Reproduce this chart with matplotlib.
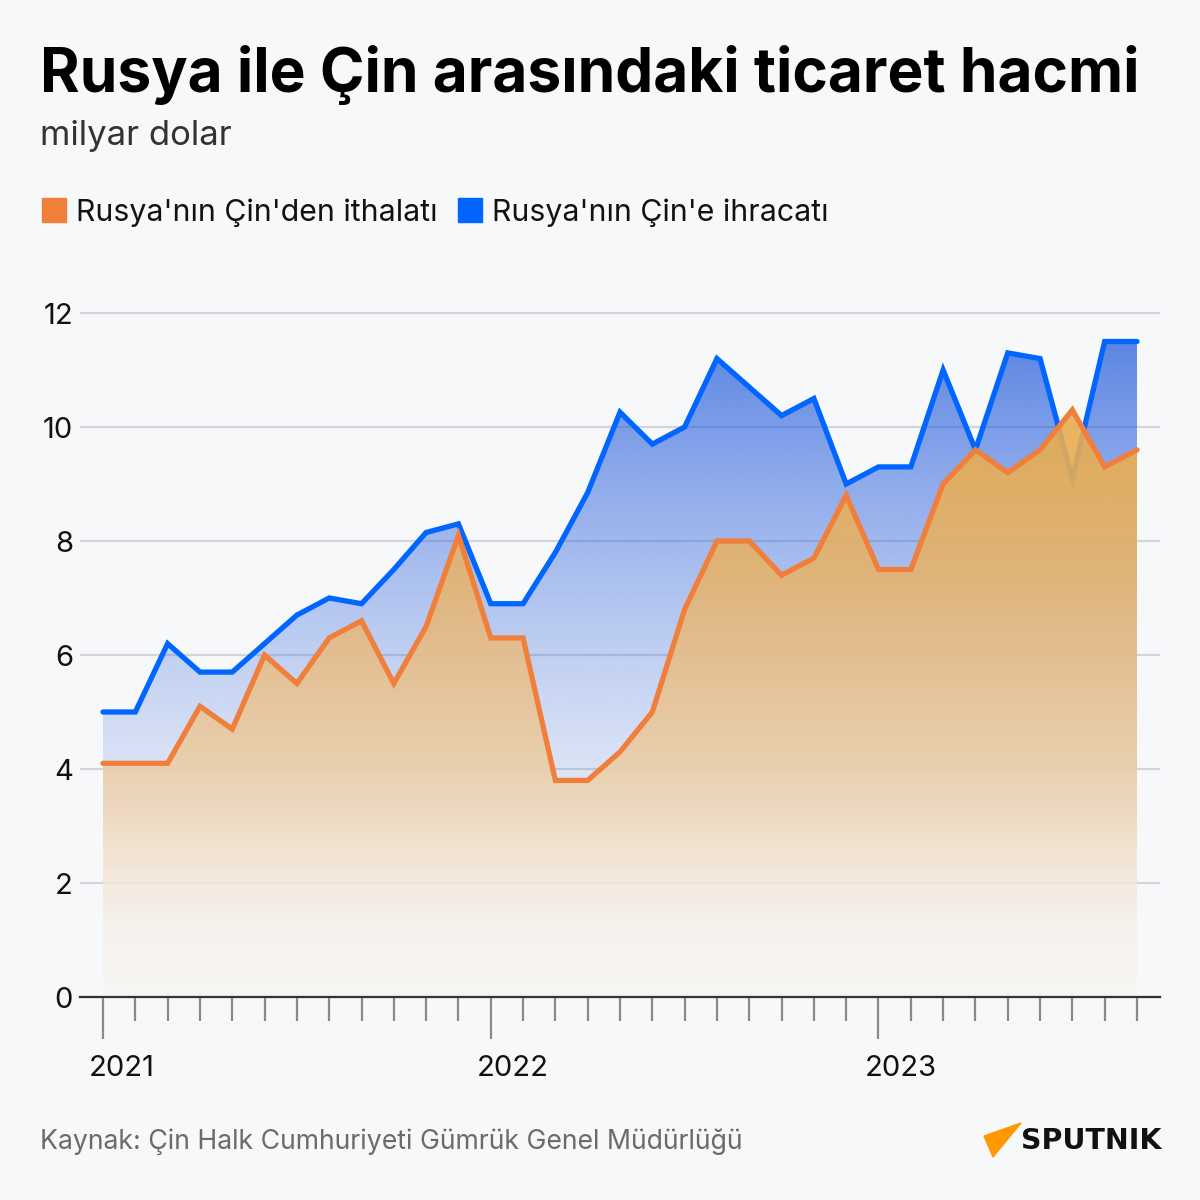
import matplotlib
matplotlib.use('Agg')
import matplotlib.pyplot as plt
import numpy as np
from matplotlib.patches import Rectangle, Polygon
from matplotlib.transforms import ScaledTranslation

# months from 2021-01 to 2023-09
months = list(range(33))
year_ticks = [0, 12, 24]
year_labels = ['2021', '2022', '2023']

# Rusya'nin Cin'e ihracati (blue)
export_vals = [5.0, 5.0, 6.2, 5.7, 5.7, 6.2, 6.7, 7.0, 6.9, 7.5, 8.15, 8.3,
               6.9, 6.9, 7.8, 8.85, 10.26, 9.7, 10.0, 11.2, 10.7, 10.2, 10.5, 9.0,
               9.3, 9.3, 11.0, 9.6, 11.3, 11.2, 9.1, 11.5, 11.5]
# Rusya'nin Cin'den ithalati (orange)
import_vals = [4.1, 4.1, 4.1, 5.1, 4.7, 6.0, 5.5, 6.3, 6.6, 5.5, 6.5, 8.1,
               6.3, 6.3, 3.8, 3.8, 4.3, 5.0, 6.8, 8.0, 8.0, 7.4, 7.7, 8.8,
               7.5, 7.5, 9.0, 9.6, 9.2, 9.6, 10.3, 9.3, 9.6]

BG = '#f7f8fa'
BLUE = '#0066ff'
ORANGE = '#f07f3c'
FONT = 'Inter'

fig = plt.figure(figsize=(12, 12), dpi=100, facecolor=BG)
ax = fig.add_axes([80 / 1200, 1 - 997 / 1200, 1080 / 1200, (997 - 284.5) / 1200])
ax.set_facecolor(BG)


def gradient_fill(ax, x, y, rgba_rows, z):
    poly = ax.fill_between(x, y, 0, color='none', lw=0)
    path = poly.get_paths()[0]
    img = rgba_rows[:, None, :]
    im = ax.imshow(img, extent=[x[0], x[-1], 0, 12], origin='lower',
                   aspect='auto', zorder=z, interpolation='bilinear')
    im.set_clip_path(path, transform=ax.transData)


yy = np.linspace(0, 12, 400)

# blue layer: fixed colour, alpha grows with height
blue_rows = np.zeros((400, 4))
blue_rows[:, :3] = np.array([40, 95, 220]) / 255
blue_rows[:, 3] = 0.8 * (yy / 12) ** 1.6

# orange layer: colour shifts with height
stop_y = [0, 1.3, 2.6, 4, 6.4, 7.7, 9, 11, 12]
stop_c = np.array([(247, 246, 244), (246, 241, 236), (242, 226, 204), (235, 206, 168),
                   (231, 186, 128), (230, 178, 104), (233, 175, 85), (236, 172, 75),
                   (236, 172, 75)])
orange_rows = np.zeros((400, 4))
for k in range(3):
    orange_rows[:, k] = np.interp(yy, stop_y, stop_c[:, k]) / 255
orange_rows[:, 3] = 0.9

for yv in range(0, 13, 2):
    ax.axhline(yv, color='#d4d5d8', lw=1.6, zorder=0.5)

gradient_fill(ax, months, export_vals, blue_rows, 1)
ax.plot(months, export_vals, color=BLUE, lw=3.8, solid_capstyle='round',
        solid_joinstyle='miter', zorder=2)
gradient_fill(ax, months, import_vals, orange_rows, 3)
ax.plot(months, import_vals, color=ORANGE, lw=3.8, solid_capstyle='round',
        solid_joinstyle='miter', zorder=4)

ax.set_xlim(-23 / 32.3, 32 + 23 / 32.3)
ax.set_ylim(0, 12.5)

for s in ['top', 'right', 'left']:
    ax.spines[s].set_visible(False)
ax.spines['bottom'].set_color('#333333')
ax.spines['bottom'].set_linewidth(1.6)
ax.spines['bottom'].set_zorder(5)

ax.set_yticks(range(0, 13, 2))
ax.set_yticklabels([str(v) for v in range(0, 13, 2)], fontsize=21, family=FONT,
                   color='#111111')
ax.tick_params(axis='y', length=0, pad=5)

ax.set_xticks(year_ticks)
ax.set_xticklabels(year_labels, fontsize=21, family=FONT, color='#111111')
ax.set_xticks(months, minor=True)
ax.tick_params(axis='x', which='major', length=30, width=1.6, color='#8a8a8a', pad=12)
ax.tick_params(axis='x', which='minor', length=17, width=1.6, color='#8a8a8a')
for lab in ax.get_xticklabels():
    lab.set_horizontalalignment('left')
    lab.set_transform(lab.get_transform() + ScaledTranslation(-14 / 100, 0, fig.dpi_scale_trans))

# titles
fig.text(40 / 1200, 1 - 92 / 1200, 'Rusya ile Çin arasındaki ticaret hacmi',
         fontsize=43.5, fontweight='bold', family=FONT, color='#000000', va='baseline')
fig.text(40 / 1200, 1 - 145 / 1200, 'milyar dolar', fontsize=25, family=FONT,
         color='#333333', va='baseline')

# legend
fig.patches.append(Rectangle((42 / 1200, 1 - 222 / 1200), 24 / 1200, 24 / 1200,
                             transform=fig.transFigure, color=ORANGE))
fig.text(76 / 1200, 1 - 221 / 1200, "Rusya'nın Çin'den ithalatı", fontsize=21.8,
         family=FONT, color='#111111', va='baseline')
fig.patches.append(Rectangle((458 / 1200, 1 - 222 / 1200), 24 / 1200, 24 / 1200,
                             transform=fig.transFigure, color=BLUE))
fig.text(492 / 1200, 1 - 221 / 1200, "Rusya'nın Çin'e ihracatı", fontsize=21.8,
         family=FONT, color='#111111', va='baseline')

# footer
fig.text(40 / 1200, 1 - 1149 / 1200,
         'Kaynak: Çin Halk Cumhuriyeti Gümrük Genel Müdürlüğü', fontsize=19.2,
         family=FONT, color='#6b6b6b', va='baseline')
fig.patches.append(Polygon([(1021 / 1200, 1 - 1123 / 1200), (984 / 1200, 1 - 1136 / 1200),
                            (993 / 1200, 1 - 1157 / 1200)], closed=True,
                           transform=fig.transFigure, color='#ff9900'))
fig.text(1021 / 1200, 1 - 1149 / 1200, 'SPUTNIK', fontsize=20.5, fontweight='heavy',
         family='DejaVu Sans', color='#111111', va='baseline')

fig.savefig('out.png', dpi=100, facecolor=BG)
